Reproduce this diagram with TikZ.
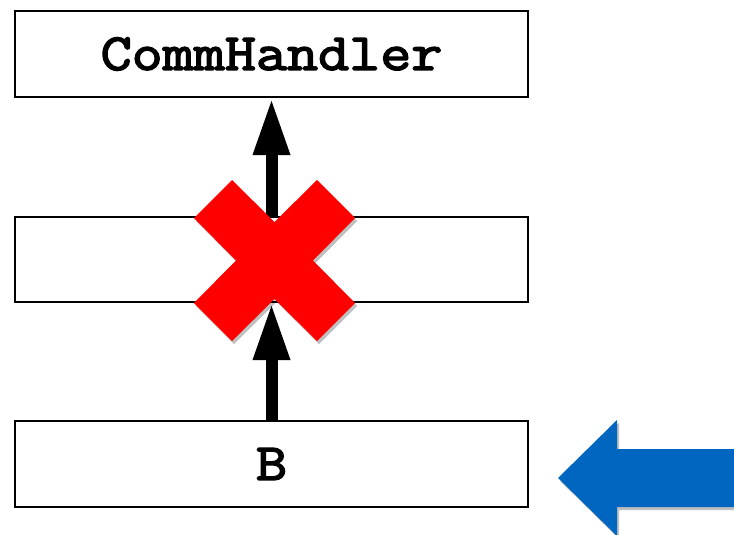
\documentclass[tikz,border=0pt]{standalone}
\usepackage{fontspec}
\newfontfamily\cmono{Latin Modern Mono}[FakeStretch=1.16,FakeBold=3]
\usetikzlibrary{arrows.meta,shadows}
\definecolor{xred}{RGB}{255,0,0}
\definecolor{arrowblue}{RGB}{0,102,192}
\begin{document}
\begin{tikzpicture}[x=1pt,y=-1pt,
  box/.style={draw=black,line width=2pt,fill=white,minimum width=513pt,inner sep=0pt,
    font=\fontsize{52}{60}\selectfont\cmono},
  conn/.style={line width=12pt,-{Triangle[length=57pt,width=34pt]}},
  shade/.style={drop shadow={shadow xshift=2pt,shadow yshift=-3pt,opacity=0.25,fill=black}}]
\useasboundingbox (0,0) rectangle (734,535);
\node[box,minimum height=86pt] (top) at (271.5,54) {CommHandler};
\node[box,minimum height=85pt] (mid) at (271.5,259.5) {};
\node[box,minimum height=86pt] (bot) at (271.5,464) {B};
\draw[conn] (bot.north) -- (mid.south);
\draw[conn] (mid.north) -- (top.south);
% red cross
\begin{scope}[shift={(274.5,260.5)}]
\fill[xred,shade] (0,-38.5) -- (42.5,-80.5) -- (80.5,-42.5) -- (38.5,0) -- (80.5,42.5) -- (42.5,80.5)
  -- (0,38.5) -- (-42.5,80.5) -- (-80.5,42.5) -- (-38.5,0) -- (-80.5,-42.5) -- (-42.5,-80.5) -- cycle;
\end{scope}
% blue arrow
\fill[arrowblue,shade] (558,478) -- (617,420) -- (617,449) -- (740,449) -- (740,507) -- (617,507) -- (617,536) -- cycle;
\end{tikzpicture}
\end{document}
